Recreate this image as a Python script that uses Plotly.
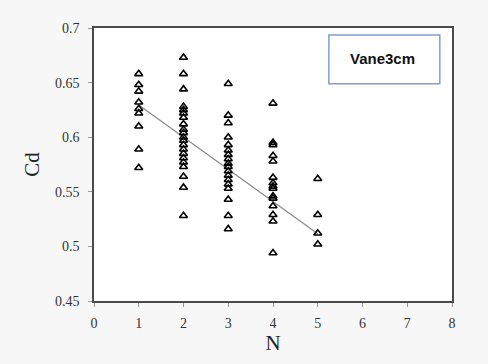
import plotly.graph_objects as go

# Discharge coefficient Cd observed for each number of vanes N
n_vanes = [1] * 9 + [2] * 21 + [3] * 18 + [4] * 15 + [5] * 4
cd_values = [
    # N = 1
    0.658, 0.648, 0.642, 0.632, 0.626, 0.622, 0.610, 0.589, 0.572,
    # N = 2
    0.673, 0.658, 0.644, 0.628, 0.625, 0.622, 0.618, 0.612, 0.607, 0.604,
    0.600, 0.597, 0.593, 0.589, 0.585, 0.581, 0.577, 0.573, 0.564, 0.554, 0.528,
    # N = 3
    0.649, 0.620, 0.613, 0.600, 0.593, 0.588, 0.584, 0.580, 0.576, 0.573,
    0.569, 0.565, 0.561, 0.557, 0.553, 0.543, 0.528, 0.516,
    # N = 4
    0.631, 0.595, 0.593, 0.583, 0.578, 0.563, 0.558, 0.555, 0.553, 0.546,
    0.544, 0.537, 0.529, 0.523, 0.494,
    # N = 5
    0.562, 0.529, 0.512, 0.502,
]
# Linear trend Cd = trend_slope * N + trend_intercept
trend_slope = -0.0295
trend_intercept = 0.659
x_ticks = [0, 1, 2, 3, 4, 5, 6, 7, 8]
y_ticks = [0.45, 0.5, 0.55, 0.6, 0.65, 0.7]
y_tick_text = ["0.45", "0.5", "0.55", "0.6", "0.65", "0.7"]
series_name = "Vane3cm"

fit_x = [min(n_vanes), max(n_vanes)]
fit_y = [trend_slope * v + trend_intercept for v in fit_x]

serif = "Liberation Serif, Times New Roman, serif"

fig = go.Figure()
fig.add_trace(go.Scatter(
    x=fit_x, y=fit_y, mode="lines",
    line=dict(color="#8c8c8c", width=1.3),
    hoverinfo="skip", showlegend=False,
))
fig.add_trace(go.Scatter(
    x=n_vanes, y=cd_values, mode="markers",
    marker=dict(symbol="triangle-up-open", size=7, color="black",
                line=dict(color="black", width=1.6)),
    name=series_name, showlegend=False,
))

axis_common = dict(
    showgrid=False, zeroline=False, showline=True, mirror=True,
    linecolor="#4a4a4a", linewidth=1.5, ticks="outside", ticklen=4,
    tickcolor="#999999", tickfont=dict(family=serif, size=14, color="#333333"),
)
fig.update_xaxes(range=[0, 8], tickvals=x_ticks, ticklabelstandoff=4,
                 title=dict(text="N", font=dict(family=serif, size=21, color="#222222"),
                            standoff=6),
                 **axis_common)
fig.update_yaxes(range=[0.45, 0.7], tickvals=y_ticks, ticktext=y_tick_text,
                 ticklabelstandoff=6,
                 title=dict(text="Cd", font=dict(family=serif, size=21, color="#222222"),
                            standoff=10),
                 **axis_common)

# Series label box in the upper right corner
fig.add_shape(type="rect", xref="paper", yref="paper",
              x0=0.656, x1=0.966, y0=0.796, y1=0.974,
              line=dict(color="#7f9fd3", width=1.5), fillcolor="white")
fig.add_annotation(text="<b>" + series_name + "</b>", xref="paper", yref="paper",
                   x=0.806, y=0.888, xanchor="center", yanchor="middle",
                   showarrow=False,
                   font=dict(family="Liberation Sans, Arial, sans-serif", size=15,
                             color="#111111"))

fig.update_layout(
    width=488, height=364,
    margin=dict(l=94, r=36, t=28, b=63),
    paper_bgcolor="#f7f7f7", plot_bgcolor="white",
)

fig.write_html("out.html")
